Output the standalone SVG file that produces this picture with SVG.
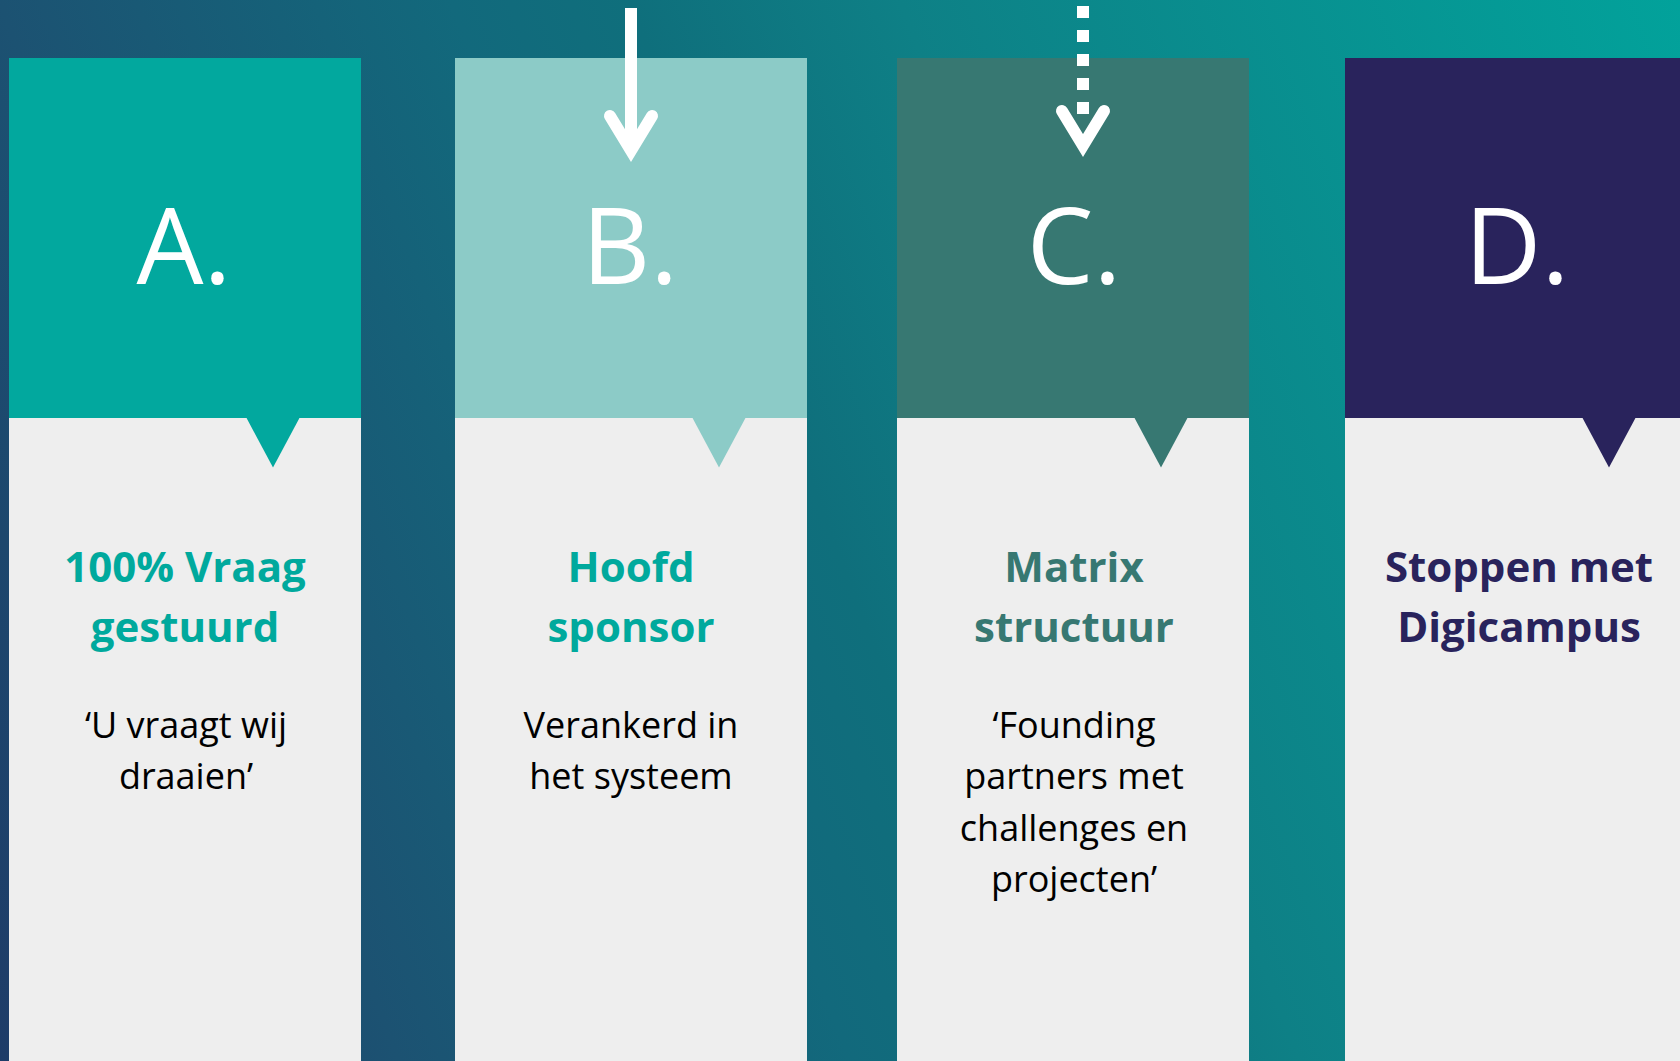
<svg xmlns="http://www.w3.org/2000/svg" width="1680" height="1061" viewBox="0 0 1680 1061">
  <defs>
    <linearGradient id="bg" gradientUnits="userSpaceOnUse" x1="0" y1="1061" x2="1821" y2="375">
      <stop offset="0" stop-color="#1e3c68"/>
      <stop offset="0.192" stop-color="#1c5272"/>
      <stop offset="0.409" stop-color="#12697c"/>
      <stop offset="0.495" stop-color="#0f6f7c"/>
      <stop offset="0.625" stop-color="#0e8086"/>
      <stop offset="1" stop-color="#02a29b"/>
    </linearGradient>
    <style>
      .body { fill: #eeeeee; }
      .letter { font-family: "Open Sans", "Liberation Sans", sans-serif; font-size: 106px; font-weight: 400; fill: #ffffff; text-anchor: middle; }
      .title { font-family: "Open Sans", "Liberation Sans", sans-serif; font-size: 42px; font-weight: 700; text-anchor: middle; }
      .desc { font-family: "Open Sans", "Liberation Sans", sans-serif; font-size: 36px; fill: #000000; text-anchor: middle; }
      .shaft { stroke: #ffffff; stroke-width: 12; fill: none; }
      .dashed { stroke-dasharray: 12 12; }
      .head { stroke: #ffffff; stroke-width: 12; fill: none; stroke-linecap: round; stroke-linejoin: miter; stroke-miterlimit: 10; }
    </style>
  </defs>

  <rect x="0" y="0" width="1680" height="1061" fill="url(#bg)"/>

  <g id="node-a">
    <rect class="body" x="9" y="418" width="352" height="643"/>
    <rect x="9" y="58" width="352" height="360" fill="#02a89e"/>
    <polygon points="246,417 300,417 273,467.5" fill="#02a89e"/>
    <text class="letter" x="184" y="284">A.</text>
    <text class="title" fill="#00a99d" x="185" y="581.9">100% Vraag</text>
    <text class="title" fill="#00a99d" x="185" y="641.9">gestuurd</text>
    <text class="desc" x="186" y="737.5">‘U vraagt wij</text>
    <text class="desc" x="186" y="789.4">draaien’</text>
  </g>

  <g id="node-b">
    <rect class="body" x="455" y="418" width="352" height="643"/>
    <rect x="455" y="58" width="352" height="360" fill="#8ccbc7"/>
    <polygon points="692,417 746,417 719,467.5" fill="#8ccbc7"/>
    <text class="letter" x="630" y="284">B.</text>
    <text class="title" fill="#00a99d" x="631" y="581.9">Hoofd</text>
    <text class="title" fill="#00a99d" x="631" y="641.9">sponsor</text>
    <text class="desc" x="631" y="737.5">Verankerd in</text>
    <text class="desc" x="631" y="789.4">het systeem</text>
  </g>

  <g id="node-c">
    <rect class="body" x="897" y="418" width="352" height="643"/>
    <rect x="897" y="58" width="352" height="360" fill="#377872"/>
    <polygon points="1134,417 1188,417 1161,467.5" fill="#377872"/>
    <text class="letter" x="1074" y="284">C.</text>
    <text class="title" fill="#377872" x="1074" y="581.9">Matrix</text>
    <text class="title" fill="#377872" x="1074" y="641.9">structuur</text>
    <text class="desc" x="1074" y="737.5">‘Founding</text>
    <text class="desc" x="1074" y="789.4">partners met</text>
    <text class="desc" x="1074" y="840.5">challenges en</text>
    <text class="desc" x="1074" y="891.5">projecten’</text>
  </g>

  <g id="node-d">
    <rect class="body" x="1345" y="418" width="352" height="643"/>
    <rect x="1345" y="58" width="352" height="360" fill="#29235c"/>
    <polygon points="1582,417 1636,417 1609,467.5" fill="#29235c"/>
    <text class="letter" x="1517" y="284">D.</text>
    <text class="title" fill="#29235c" x="1519" y="581.9">Stoppen met</text>
    <text class="title" fill="#29235c" x="1519" y="641.9">Digicampus</text>
  </g>

  <g id="connectors">
    <g id="arrow-b">
      <line class="shaft" x1="631" y1="8" x2="631" y2="150"/>
      <polyline class="head" points="610,116 631,150.5 652,116"/>
    </g>
    <g id="arrow-c">
      <line class="shaft dashed" x1="1083" y1="6" x2="1083" y2="114"/>
      <polyline class="head" points="1062,111 1083,145.5 1104,111"/>
    </g>
  </g>
</svg>
